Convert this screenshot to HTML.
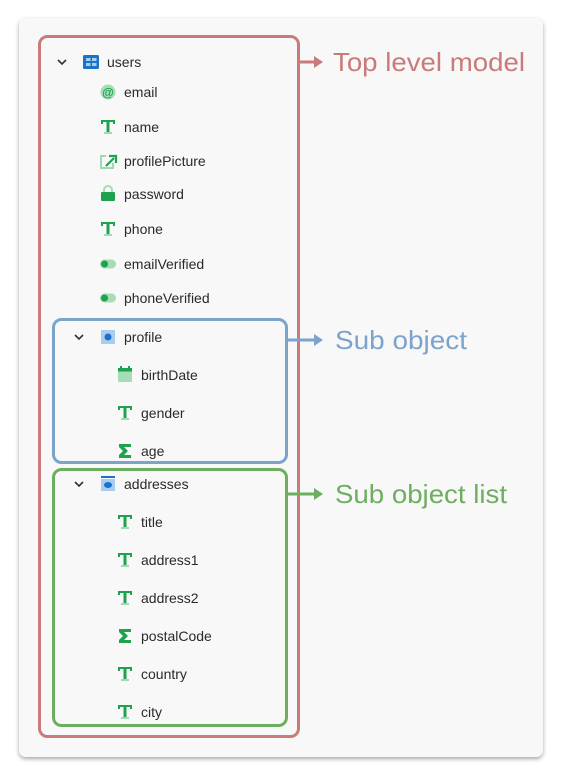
<!DOCTYPE html>
<html><head><meta charset="utf-8"><style>
html,body{margin:0;padding:0;background:#fff;}
svg{display:block;}
text{font-family:"Liberation Sans",sans-serif;}
.l{font-size:14px;fill:#2a2a2a;}
.a{font-size:26px;}
</style></head><body>
<svg width="564" height="778" viewBox="0 0 564 778" xmlns="http://www.w3.org/2000/svg">
<defs>
<filter id="sh" x="-5%" y="-5%" width="110%" height="110%"><feDropShadow dx="0" dy="2" stdDeviation="2" flood-color="#000" flood-opacity="0.35"/></filter>
<g id="T"><path d="M-7,-7 H7 V-3 H5 V-5 H1.5 V5 H4 V7 H-4 V5 H-1.5 V-5 H-5 V-3 H-7 Z" fill="#1ea250"/><rect x="-4" y="5" width="8" height="2" fill="#9ddbb0"/></g>
<g id="tog"><rect x="-8" y="-4.5" width="16" height="9" rx="4.5" fill="#a6dcb6"/><circle cx="-3.5" cy="0" r="3.5" fill="#1ea250"/></g>
<g id="sig"><path d="M-6,-7 H6 V-4 H-1 L3,0 L-1,4 H6 V7 H-6 V4 L-2,0 L-6,-4 Z" fill="#1ea250"/></g>
<g id="chev"><path d="M-4,-2 L0,2 L4,-2" fill="none" stroke="#333" stroke-width="1.6"/></g>
</defs>
<rect x="19" y="18" width="524" height="739" rx="7" fill="#f8f8f8" filter="url(#sh)"/>
<rect x="39.5" y="36.5" width="259" height="700" rx="8" fill="none" stroke="#c97b7b" stroke-width="3"/>
<rect x="53.5" y="319.5" width="233" height="143" rx="8" fill="none" stroke="#7ba3cc" stroke-width="3"/>
<rect x="53.5" y="469.5" width="233" height="256" rx="8" fill="none" stroke="#6dae60" stroke-width="3"/>
<line x1="300" y1="62" x2="316" y2="62" stroke="#c97b7b" stroke-width="3"/><path d="M314,56 L323,62 L314,68 Z" fill="#c97b7b"/>
<text x="333" y="71" class="a" fill="#c97b7b" textLength="192" lengthAdjust="spacingAndGlyphs">Top level model</text>
<line x1="288" y1="340" x2="316" y2="340" stroke="#7ba3cc" stroke-width="3"/><path d="M314,334 L323,340 L314,346 Z" fill="#7ba3cc"/>
<text x="335" y="349" class="a" fill="#7ba3cc" textLength="132" lengthAdjust="spacingAndGlyphs">Sub object</text>
<line x1="288" y1="494" x2="316" y2="494" stroke="#6dae60" stroke-width="3"/><path d="M314,488 L323,494 L314,500 Z" fill="#6dae60"/>
<text x="335" y="503" class="a" fill="#6dae60" textLength="172" lengthAdjust="spacingAndGlyphs">Sub object list</text>
<use href="#chev" x="62" y="62"/>
<rect x="83" y="55" width="16" height="14" rx="1.5" fill="#1a73c8"/><rect x="86" y="58" width="4.5" height="3" fill="#a9cdf0"/><rect x="92" y="58" width="4.5" height="3" fill="#a9cdf0"/><rect x="86" y="63" width="4.5" height="3" fill="#a9cdf0"/><rect x="92" y="63" width="4.5" height="3" fill="#a9cdf0"/>
<text x="107" y="67" class="l">users</text>
<circle cx="108" cy="92" r="7.5" fill="#a6dcb6"/><text x="108" y="96.5" font-size="12" font-weight="bold" fill="#1ea250" text-anchor="middle">@</text>
<text x="124" y="97" class="l">email</text>
<use href="#T" x="108" y="127"/><text x="124" y="132" class="l">name</text>
<path d="M106,156 H101 V168 H113 V163" fill="none" stroke="#9ddbb0" stroke-width="2"/><path d="M106,166 L114,158 M109,156 H116 V163" fill="none" stroke="#1ea250" stroke-width="2.2"/>
<text x="124" y="166" class="l">profilePicture</text>
<path d="M104,193 V190 A4,4 0 0 1 112,190 V193" fill="none" stroke="#a6dcb6" stroke-width="2"/><rect x="101" y="192" width="14" height="9" rx="1" fill="#1ea250"/>
<text x="124" y="199" class="l">password</text>
<use href="#T" x="108" y="229"/><text x="124" y="234" class="l">phone</text>
<use href="#tog" x="108" y="264"/><text x="124" y="269" class="l">emailVerified</text>
<use href="#tog" x="108" y="298"/><text x="124" y="303" class="l">phoneVerified</text>
<use href="#chev" x="79" y="337"/>
<rect x="101" y="330" width="14" height="14" fill="#a9cdf0"/><circle cx="108" cy="337" r="3.5" fill="#1a73c8"/>
<text x="124" y="342" class="l">profile</text>
<rect x="118" y="368" width="14" height="14" rx="1" fill="#a6dcb6"/><rect x="118" y="368" width="14" height="3.5" fill="#1ea250"/><rect x="120" y="366" width="2" height="3" fill="#1ea250"/><rect x="128" y="366" width="2" height="3" fill="#1ea250"/>
<text x="141" y="380" class="l">birthDate</text>
<use href="#T" x="125" y="413"/><text x="141" y="418" class="l">gender</text>
<use href="#sig" x="125" y="451"/><text x="141" y="456" class="l">age</text>
<use href="#chev" x="79" y="484"/>
<rect x="101" y="476" width="14" height="2" fill="#1a73c8"/><rect x="101" y="479" width="14" height="12" fill="#a9cdf0"/><ellipse cx="108" cy="485" rx="4" ry="3" fill="#1a73c8"/>
<text x="124" y="489" class="l">addresses</text>
<use href="#T" x="125" y="522"/><text x="141" y="527" class="l">title</text>
<use href="#T" x="125" y="560"/><text x="141" y="565" class="l">address1</text>
<use href="#T" x="125" y="598"/><text x="141" y="603" class="l">address2</text>
<use href="#sig" x="125" y="636"/><text x="141" y="641" class="l">postalCode</text>
<use href="#T" x="125" y="674"/><text x="141" y="679" class="l">country</text>
<use href="#T" x="125" y="712"/><text x="141" y="717" class="l">city</text>
</svg>
</body></html>
